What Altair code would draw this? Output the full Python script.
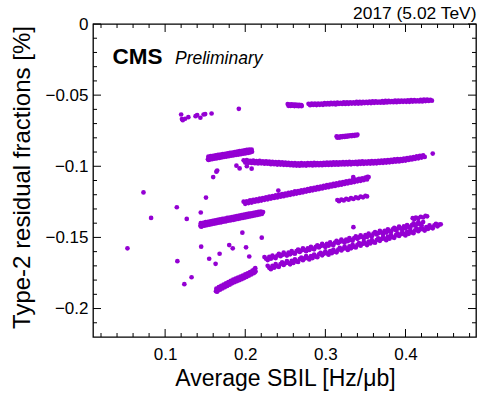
import altair as alt
import pandas as pd

PURPLE = "#9400d3"
FONT = "Liberation Sans"

# ---- measured (average SBIL, type-2 residual fraction) points, grouped by fill ----
band_a1 = [(0.2530,-0.0563),(0.2540,-0.0575),(0.2550,-0.0566),(0.2565,-0.0576),(0.2575,-0.0565),
           (0.2590,-0.0574),(0.2600,-0.0567),(0.2615,-0.0577),(0.2625,-0.0566),(0.2640,-0.0575),
           (0.2650,-0.0568),(0.2665,-0.0578),(0.2675,-0.0569),(0.2690,-0.0576),(0.2700,-0.0570),
           (0.2705,-0.0577)]

band_a2 = [(0.279,-0.0561),(0.281,-0.0571),(0.283,-0.0559),(0.285,-0.0569),(0.287,-0.0560),
           (0.289,-0.0570),(0.291,-0.0559),(0.293,-0.0568),(0.295,-0.0560),(0.297,-0.0568),
           (0.299,-0.0556),(0.301,-0.0566),(0.303,-0.0556),(0.305,-0.0566),(0.307,-0.0554),
           (0.309,-0.0564),(0.311,-0.0555),(0.313,-0.0565),(0.315,-0.0553),(0.317,-0.0562),
           (0.319,-0.0554),(0.321,-0.0562),(0.323,-0.0551),(0.325,-0.0562),(0.327,-0.0551),
           (0.329,-0.0561),(0.331,-0.0550),(0.333,-0.0559),(0.335,-0.0551),(0.337,-0.0559),
           (0.339,-0.0548),(0.341,-0.0559),(0.343,-0.0548),(0.345,-0.0558),(0.347,-0.0547),
           (0.349,-0.0556),(0.351,-0.0548),(0.353,-0.0556),(0.355,-0.0545),(0.357,-0.0556),
           (0.359,-0.0544),(0.361,-0.0554),(0.363,-0.0543),(0.365,-0.0553),(0.367,-0.0545),
           (0.369,-0.0553),(0.371,-0.0542),(0.373,-0.0553),(0.375,-0.0541),(0.377,-0.0551),
           (0.379,-0.0541),(0.381,-0.0550),(0.383,-0.0542),(0.385,-0.0550),(0.387,-0.0539),
           (0.389,-0.0550),(0.391,-0.0538),(0.393,-0.0548),(0.395,-0.0538),(0.397,-0.0547),
           (0.399,-0.0539),(0.401,-0.0547),(0.403,-0.0536),(0.405,-0.0547),(0.407,-0.0535),
           (0.409,-0.0545),(0.411,-0.0535),(0.413,-0.0544),(0.415,-0.0536),(0.417,-0.0544),
           (0.419,-0.0533),(0.421,-0.0544),(0.423,-0.0532),(0.425,-0.0542),(0.427,-0.0532),
           (0.429,-0.0541),(0.431,-0.0533),(0.433,-0.0539)]

band_a3 = [(0.314,-0.0790),(0.315,-0.0799),(0.316,-0.0793),(0.318,-0.0798),(0.319,-0.0789),
           (0.321,-0.0795),(0.322,-0.0788),(0.324,-0.0794),(0.325,-0.0786),(0.327,-0.0792),
           (0.328,-0.0785),(0.330,-0.0789),(0.331,-0.0782),(0.333,-0.0788),(0.334,-0.0781),
           (0.336,-0.0786),(0.337,-0.0779),(0.339,-0.0783),(0.340,-0.0778)]

cluster_left = [(0.120,-0.0636),(0.121,-0.0668),(0.122,-0.0676),(0.125,-0.0666),(0.129,-0.0655),
                (0.138,-0.0648),(0.140,-0.0640),(0.144,-0.0659),(0.148,-0.0636),(0.150,-0.0633),
                (0.158,-0.0629),(0.192,-0.0596)]

band_b = [(0.1535,-0.0950),(0.1540,-0.0932),(0.1542,-0.0956),(0.1555,-0.0953),(0.1570,-0.0929),
          (0.1585,-0.0950),(0.1600,-0.0926),(0.1615,-0.0947),(0.1630,-0.0923),(0.1645,-0.0944),
          (0.1660,-0.0920),(0.1675,-0.0941),(0.1690,-0.0918),(0.1705,-0.0938),(0.1720,-0.0915),
          (0.1735,-0.0935),(0.1750,-0.0912),(0.1765,-0.0932),(0.1780,-0.0909),(0.1795,-0.0929),
          (0.1810,-0.0906),(0.1825,-0.0926),(0.1840,-0.0903),(0.1855,-0.0923),(0.1870,-0.0900),
          (0.1885,-0.0920),(0.1900,-0.0897),(0.1915,-0.0918),(0.1930,-0.0894),(0.1945,-0.0915),
          (0.1960,-0.0891),(0.1975,-0.0912),(0.1990,-0.0888),(0.2005,-0.0909),(0.2020,-0.0885),
          (0.2035,-0.0906),(0.2050,-0.0883),(0.2065,-0.0902),(0.2080,-0.0882),(0.2085,-0.0898)]

band_c = [(0.198,-0.0958),(0.200,-0.0974),(0.202,-0.0957),(0.204,-0.0976),(0.206,-0.0961),
          (0.208,-0.0977),(0.210,-0.0960),(0.212,-0.0978),(0.214,-0.0963),(0.216,-0.0980),
          (0.218,-0.0962),(0.220,-0.0979),(0.222,-0.0966),(0.224,-0.0982),(0.226,-0.0966),
          (0.228,-0.0982),(0.230,-0.0967),(0.232,-0.0985),(0.234,-0.0969),(0.236,-0.0985),
          (0.238,-0.0971),(0.240,-0.0988),(0.242,-0.0971),(0.244,-0.0988),(0.246,-0.0973),
          (0.248,-0.0990),(0.250,-0.0975),(0.252,-0.0991),(0.254,-0.0976),(0.256,-0.0993),
          (0.258,-0.0977),(0.260,-0.0994),(0.262,-0.0978),(0.264,-0.0995),(0.266,-0.0979),
          (0.268,-0.0996),(0.270,-0.0978),(0.272,-0.0994),(0.274,-0.0979),(0.276,-0.0995),
          (0.278,-0.0977),(0.280,-0.0993),(0.282,-0.0978),(0.284,-0.0994),(0.286,-0.0976),
          (0.288,-0.0993),(0.290,-0.0977),(0.292,-0.0992),(0.294,-0.0977),(0.296,-0.0993),
          (0.298,-0.0976),(0.300,-0.0991),(0.302,-0.0975),(0.304,-0.0991),(0.306,-0.0974),
          (0.308,-0.0990),(0.310,-0.0973),(0.312,-0.0989),(0.314,-0.0972),(0.316,-0.0989),
          (0.318,-0.0973),(0.320,-0.0987),(0.322,-0.0971),(0.324,-0.0987),(0.326,-0.0970),
          (0.328,-0.0986),(0.330,-0.0969),(0.332,-0.0986),(0.334,-0.0970),(0.336,-0.0984),
          (0.338,-0.0968),(0.340,-0.0985),(0.342,-0.0967),(0.344,-0.0983),(0.346,-0.0966),
          (0.348,-0.0983),(0.350,-0.0967),(0.352,-0.0981),(0.354,-0.0965),(0.356,-0.0981),
          (0.358,-0.0964),(0.360,-0.0980),(0.362,-0.0963),(0.364,-0.0979),(0.366,-0.0962),
          (0.368,-0.0977),(0.370,-0.0960),(0.372,-0.0976),(0.374,-0.0958),(0.376,-0.0974),
          (0.378,-0.0956),(0.380,-0.0972),(0.382,-0.0955),(0.384,-0.0970),(0.386,-0.0952),
          (0.388,-0.0967),(0.390,-0.0950),(0.392,-0.0966),(0.394,-0.0949),(0.396,-0.0963),
          (0.398,-0.0946),(0.400,-0.0960),(0.402,-0.0943),(0.404,-0.0956),(0.406,-0.0939),
          (0.408,-0.0952),(0.410,-0.0935),(0.412,-0.0948),(0.414,-0.0931),(0.416,-0.0944),
          (0.418,-0.0927),(0.420,-0.0939),(0.422,-0.0924),(0.424,-0.0934)]

band_d = [(0.1440,-0.1418),(0.1445,-0.1400),(0.1450,-0.1425),(0.1455,-0.1412),(0.1460,-0.1421),
          (0.1475,-0.1397),(0.1490,-0.1418),(0.1505,-0.1393),(0.1520,-0.1414),(0.1535,-0.1390),
          (0.1550,-0.1411),(0.1565,-0.1387),(0.1580,-0.1407),(0.1595,-0.1384),(0.1610,-0.1404),
          (0.1625,-0.1380),(0.1640,-0.1400),(0.1655,-0.1377),(0.1670,-0.1397),(0.1685,-0.1373),
          (0.1700,-0.1394),(0.1715,-0.1370),(0.1730,-0.1390),(0.1745,-0.1367),(0.1760,-0.1387),
          (0.1775,-0.1363),(0.1790,-0.1383),(0.1805,-0.1360),(0.1820,-0.1380),(0.1835,-0.1357),
          (0.1850,-0.1377),(0.1865,-0.1353),(0.1880,-0.1373),(0.1895,-0.1350),(0.1910,-0.1370),
          (0.1925,-0.1347),(0.1940,-0.1366),(0.1955,-0.1343),(0.1970,-0.1363),(0.1985,-0.1340),
          (0.2000,-0.1360),(0.2015,-0.1337),(0.2030,-0.1356),(0.2045,-0.1333),(0.2060,-0.1353),
          (0.2075,-0.1330),(0.2090,-0.1349),(0.2105,-0.1327),(0.2120,-0.1346),(0.2135,-0.1324),
          (0.2150,-0.1342),(0.2165,-0.1320),(0.2180,-0.1339),(0.2195,-0.1318),(0.2210,-0.1334),
          (0.2222,-0.1322)]

band_h = [(0.198,-0.1249),(0.200,-0.1264),(0.202,-0.1246),(0.204,-0.1259),(0.206,-0.1240),
          (0.208,-0.1255),(0.210,-0.1236),(0.212,-0.1249),(0.214,-0.1232),(0.216,-0.1246),
          (0.218,-0.1227),(0.220,-0.1241),(0.222,-0.1223),(0.224,-0.1236),(0.226,-0.1218),
          (0.228,-0.1232),(0.230,-0.1213),(0.232,-0.1227),(0.234,-0.1210),(0.236,-0.1223),
          (0.238,-0.1204),(0.240,-0.1219),(0.242,-0.1201),(0.244,-0.1214),(0.246,-0.1195),
          (0.248,-0.1210),(0.250,-0.1192),(0.252,-0.1205),(0.254,-0.1186),(0.256,-0.1201),
          (0.258,-0.1183),(0.260,-0.1196),(0.262,-0.1177),(0.264,-0.1192),(0.266,-0.1174),
          (0.268,-0.1187),(0.270,-0.1169),(0.272,-0.1183),(0.274,-0.1165),(0.276,-0.1178),
          (0.278,-0.1160),(0.280,-0.1174),(0.282,-0.1156),(0.284,-0.1169),(0.286,-0.1151),
          (0.288,-0.1165),(0.290,-0.1147),(0.292,-0.1160),(0.294,-0.1142),(0.296,-0.1156),
          (0.298,-0.1138),(0.300,-0.1151),(0.302,-0.1133),(0.304,-0.1147),(0.306,-0.1129),
          (0.308,-0.1142),(0.310,-0.1124),(0.312,-0.1138),(0.314,-0.1120),(0.316,-0.1133),
          (0.318,-0.1115),(0.320,-0.1129),(0.322,-0.1111),(0.324,-0.1124),(0.326,-0.1106),
          (0.328,-0.1120),(0.330,-0.1102),(0.332,-0.1115),(0.334,-0.1097),(0.336,-0.1111),
          (0.338,-0.1093),(0.340,-0.1106),(0.342,-0.1088),(0.344,-0.1102),(0.346,-0.1084),
          (0.348,-0.1097),(0.350,-0.1079),(0.352,-0.1093),(0.354,-0.1076),
          (0.3348,-0.1076),(0.3527,-0.1074)]

band_h2 = [(0.315,-0.1237),(0.317,-0.1245),(0.320,-0.1234),(0.323,-0.1240),(0.326,-0.1229),
           (0.329,-0.1235),(0.332,-0.1224),(0.335,-0.1230),(0.338,-0.1219),(0.341,-0.1224),
           (0.344,-0.1213),(0.347,-0.1218),(0.350,-0.1207),(0.352,-0.1212)]

band_e = [(0.1635,-0.1878),(0.1640,-0.1859),(0.1648,-0.1882),(0.1655,-0.1877),(0.1670,-0.1850),
          (0.1685,-0.1868),(0.1700,-0.1841),(0.1715,-0.1859),(0.1730,-0.1832),(0.1745,-0.1850),
          (0.1760,-0.1823),(0.1775,-0.1841),(0.1790,-0.1814),(0.1805,-0.1832),(0.1820,-0.1806),
          (0.1835,-0.1823),(0.1850,-0.1797),(0.1865,-0.1815),(0.1880,-0.1790),(0.1895,-0.1808),
          (0.1910,-0.1783),(0.1925,-0.1801),(0.1940,-0.1776),(0.1955,-0.1794),(0.1970,-0.1769),
          (0.1985,-0.1786),(0.2000,-0.1760),(0.2015,-0.1778),(0.2030,-0.1752),(0.2045,-0.1769),
          (0.2060,-0.1743),(0.2075,-0.1760),(0.2090,-0.1733),(0.2105,-0.1752),(0.2115,-0.1724),
          (0.2120,-0.1745),(0.2125,-0.1716),(0.2128,-0.1738)]

band_f = [(0.224,-0.1638),(0.226,-0.1650),(0.228,-0.1659),(0.230,-0.1637),(0.232,-0.1650),
          (0.234,-0.1627),(0.236,-0.1640),(0.238,-0.1645),(0.240,-0.1627),(0.242,-0.1616),
          (0.244,-0.1632),(0.246,-0.1623),(0.248,-0.1607),(0.250,-0.1620),(0.252,-0.1628),
          (0.254,-0.1607),(0.256,-0.1619),(0.258,-0.1596),(0.260,-0.1610),(0.262,-0.1614),
          (0.264,-0.1597),(0.266,-0.1585),(0.268,-0.1602),(0.270,-0.1592),(0.272,-0.1577),
          (0.274,-0.1589),(0.276,-0.1597),(0.278,-0.1576),(0.280,-0.1588),(0.282,-0.1566),
          (0.284,-0.1579),(0.286,-0.1584),(0.288,-0.1566),(0.290,-0.1555),(0.292,-0.1571),
          (0.294,-0.1561),(0.296,-0.1546),(0.298,-0.1558),(0.300,-0.1567),(0.302,-0.1545),
          (0.304,-0.1558),(0.306,-0.1535),(0.308,-0.1549),(0.310,-0.1553),(0.312,-0.1536),
          (0.314,-0.1524),(0.316,-0.1540),(0.318,-0.1531),(0.320,-0.1515),(0.322,-0.1528),
          (0.324,-0.1536),(0.326,-0.1515),(0.328,-0.1527),(0.330,-0.1505),(0.332,-0.1518),
          (0.334,-0.1523),(0.336,-0.1505),(0.338,-0.1493),(0.340,-0.1510),(0.342,-0.1500),
          (0.344,-0.1485),(0.346,-0.1497),(0.348,-0.1506),(0.350,-0.1484),(0.352,-0.1497),
          (0.354,-0.1474),(0.356,-0.1487),(0.358,-0.1492),(0.360,-0.1474),(0.362,-0.1463),
          (0.364,-0.1479),(0.366,-0.1470),(0.368,-0.1454),(0.370,-0.1467),(0.372,-0.1475),
          (0.374,-0.1454),(0.376,-0.1466),(0.378,-0.1443),(0.380,-0.1457),(0.382,-0.1461),
          (0.384,-0.1444),(0.386,-0.1432),(0.388,-0.1449),(0.390,-0.1439),(0.392,-0.1424),
          (0.394,-0.1436),(0.396,-0.1444),(0.398,-0.1423),(0.400,-0.1435),(0.402,-0.1413),
          (0.404,-0.1426),(0.406,-0.1431),(0.408,-0.1413),(0.410,-0.1402),(0.412,-0.1418),
          (0.414,-0.1408),(0.416,-0.1393),(0.418,-0.1405),(0.420,-0.1414),(0.422,-0.1392)]

band_f2 = [(0.409,-0.1365),(0.411,-0.1372),(0.413,-0.1360),(0.416,-0.1366),(0.419,-0.1355),
           (0.422,-0.1360),(0.425,-0.1348),(0.427,-0.1352)]

band_g = [(0.228,-0.1700),(0.230,-0.1714),(0.232,-0.1723),(0.234,-0.1699),(0.236,-0.1713),
          (0.238,-0.1688),(0.240,-0.1703),(0.242,-0.1707),(0.244,-0.1687),(0.246,-0.1676),
          (0.248,-0.1694),(0.250,-0.1682),(0.252,-0.1666),(0.254,-0.1680),(0.256,-0.1689),
          (0.258,-0.1665),(0.260,-0.1679),(0.262,-0.1654),(0.264,-0.1669),(0.266,-0.1673),
          (0.268,-0.1653),(0.270,-0.1642),(0.272,-0.1660),(0.274,-0.1648),(0.276,-0.1632),
          (0.278,-0.1646),(0.280,-0.1655),(0.282,-0.1631),(0.284,-0.1645),(0.286,-0.1620),
          (0.288,-0.1635),(0.290,-0.1639),(0.292,-0.1619),(0.294,-0.1608),(0.296,-0.1626),
          (0.298,-0.1614),(0.300,-0.1598),(0.302,-0.1612),(0.304,-0.1622),(0.306,-0.1597),
          (0.308,-0.1611),(0.310,-0.1586),(0.312,-0.1601),(0.314,-0.1605),(0.316,-0.1586),
          (0.318,-0.1574),(0.320,-0.1592),(0.322,-0.1580),(0.324,-0.1564),(0.326,-0.1578),
          (0.328,-0.1588),(0.330,-0.1563),(0.332,-0.1577),(0.334,-0.1552),(0.336,-0.1567),
          (0.338,-0.1571),(0.340,-0.1552),(0.342,-0.1540),(0.344,-0.1558),(0.346,-0.1546),
          (0.348,-0.1530),(0.350,-0.1544),(0.352,-0.1554),(0.354,-0.1529),(0.356,-0.1543),
          (0.358,-0.1518),(0.360,-0.1533),(0.362,-0.1537),(0.364,-0.1518),(0.366,-0.1506),
          (0.368,-0.1524),(0.370,-0.1512),(0.372,-0.1496),(0.374,-0.1510),(0.376,-0.1520),
          (0.378,-0.1495),(0.380,-0.1509),(0.382,-0.1484),(0.384,-0.1499),(0.386,-0.1503),
          (0.388,-0.1484),(0.390,-0.1472),(0.392,-0.1490),(0.394,-0.1478),(0.396,-0.1462),
          (0.398,-0.1477),(0.400,-0.1486),(0.402,-0.1461),(0.404,-0.1475),(0.406,-0.1450),
          (0.408,-0.1465),(0.410,-0.1470),(0.412,-0.1450),(0.414,-0.1438),(0.416,-0.1456),
          (0.418,-0.1444),(0.420,-0.1428),(0.422,-0.1443),(0.424,-0.1452),(0.426,-0.1427),
          (0.428,-0.1441),(0.430,-0.1416),(0.432,-0.1431),(0.434,-0.1436),(0.436,-0.1416),
          (0.438,-0.1404),(0.440,-0.1422),(0.442,-0.1410),(0.444,-0.1408)]

loose = [(0.053,-0.1577),(0.073,-0.1184),(0.0825,-0.1363),(0.1146,-0.1288),(0.1153,-0.1667),
         (0.124,-0.1829),(0.127,-0.1370),(0.133,-0.1780),(0.1445,-0.1325),(0.145,-0.1565),
         (0.151,-0.1220),(0.155,-0.1650),(0.160,-0.1076),(0.163,-0.1686),(0.164,-0.1038),
         (0.165,-0.1030),(0.168,-0.1615),(0.180,-0.1554),(0.1844,-0.1577),(0.189,-0.0996),
         (0.193,-0.1015),(0.1964,-0.1467),(0.201,-0.1570),(0.202,-0.1000),(0.205,-0.1634),
         (0.208,-0.1017),(0.2206,-0.1502),(0.2413,-0.1171),(0.335,-0.1428),(0.434,-0.0911)]

# ---- axis ticks ----
x_major = [0.1, 0.2, 0.3, 0.4]
x_minor = [0.02, 0.04, 0.06, 0.08, 0.12, 0.14, 0.16, 0.18, 0.22, 0.24, 0.26, 0.28,
           0.32, 0.34, 0.36, 0.38, 0.42, 0.44, 0.46, 0.48]
y_major = [0, -0.05, -0.1, -0.15, -0.2]
y_minor = [-0.01, -0.02, -0.03, -0.04, -0.06, -0.07, -0.08, -0.09, -0.11, -0.12,
           -0.13, -0.14, -0.16, -0.17, -0.18, -0.19, -0.21]

X_DOMAIN = [0.01, 0.488]
Y_DOMAIN = [-0.22, 0.0]
W, H = 383, 313
MAJ, MIN = 8, 4

groups = [band_a1, band_a2, band_a3, cluster_left, band_b, band_c, band_d, band_h,
          band_h2, band_e, band_f, band_f2, band_g, loose]
points = pd.DataFrame([p for g in groups for p in g], columns=["x", "y"])

x_axis = alt.Axis(values=x_major, format=".1f", ticks=False, tickSize=0, domain=False,
                  grid=False, labelFont=FONT, labelFontSize=17, labelColor="black",
                  labelPadding=9, title="Average SBIL [Hz/μb]", titleFont=FONT,
                  titleFontSize=23, titleFontWeight="normal", titleColor="black",
                  titleX=192, titleY=48, titleAlign="center", titleBaseline="alphabetic")
y_axis = alt.Axis(values=y_major, format="~g", ticks=False, tickSize=0, domain=False,
                  grid=False, labelFont=FONT, labelFontSize=17, labelColor="black",
                  labelPadding=5, title="Type-2 residual fractions [%]", titleFont=FONT,
                  titleFontSize=24, titleFontWeight="normal", titleColor="black",
                  titleAngle=270, titleX=-64, titleY=153, titleAlign="center",
                  titleBaseline="alphabetic")

xs = alt.Scale(domain=X_DOMAIN, nice=False, zero=False)
ys = alt.Scale(domain=Y_DOMAIN, nice=False, zero=False)

def X():
    return alt.X("x:Q", scale=xs, axis=x_axis)

def Y():
    return alt.Y("y:Q", scale=ys, axis=y_axis)

scatter = alt.Chart(points).mark_circle(size=22, color=PURPLE, opacity=1).encode(x=X(), y=Y())

def xticks(vals, length):
    df = pd.DataFrame({"x": vals})
    bottom = alt.Chart(df).mark_rule(color="black", strokeWidth=1).encode(
        x=X(), y=alt.value(H), y2=alt.value(H - length))
    top = alt.Chart(df).mark_rule(color="black", strokeWidth=1).encode(
        x=X(), y=alt.value(0), y2=alt.value(length))
    return [bottom, top]

def yticks(vals, length):
    df = pd.DataFrame({"y": vals})
    left = alt.Chart(df).mark_rule(color="black", strokeWidth=1).encode(
        y=Y(), x=alt.value(0), x2=alt.value(length))
    right = alt.Chart(df).mark_rule(color="black", strokeWidth=1).encode(
        y=Y(), x=alt.value(W), x2=alt.value(W - length))
    return [left, right]

def label(text, x, y, size, align, weight="normal", style="normal"):
    df = pd.DataFrame({"t": [text]})
    return alt.Chart(df).mark_text(
        font=FONT, fontSize=size, fontWeight=weight, fontStyle=style, color="black",
        align=align, baseline="alphabetic").encode(
        text="t:N", x=alt.value(x), y=alt.value(y))

texts = [
    label("2017 (5.02 TeV)", W + 0.5, -5.5, 17.4, "right"),
    label("CMS", 19.5, 40, 22.5, "left", weight="bold"),
    label("Preliminary", 82, 40, 17.5, "left", style="italic"),
]

chart = alt.layer(
    *xticks(x_major, MAJ), *xticks(x_minor, MIN),
    *yticks(y_major, MAJ), *yticks(y_minor, MIN),
    scatter, *texts,
).properties(
    width=W, height=H,
    autosize=alt.AutoSizeParams(type="none"),
    padding={"left": 93, "top": 24, "right": 1, "bottom": 59},
    background="white",
).configure_view(stroke="black", strokeWidth=1.3)

chart.save("out.html", embed_options={"renderer": "svg", "actions": False})
